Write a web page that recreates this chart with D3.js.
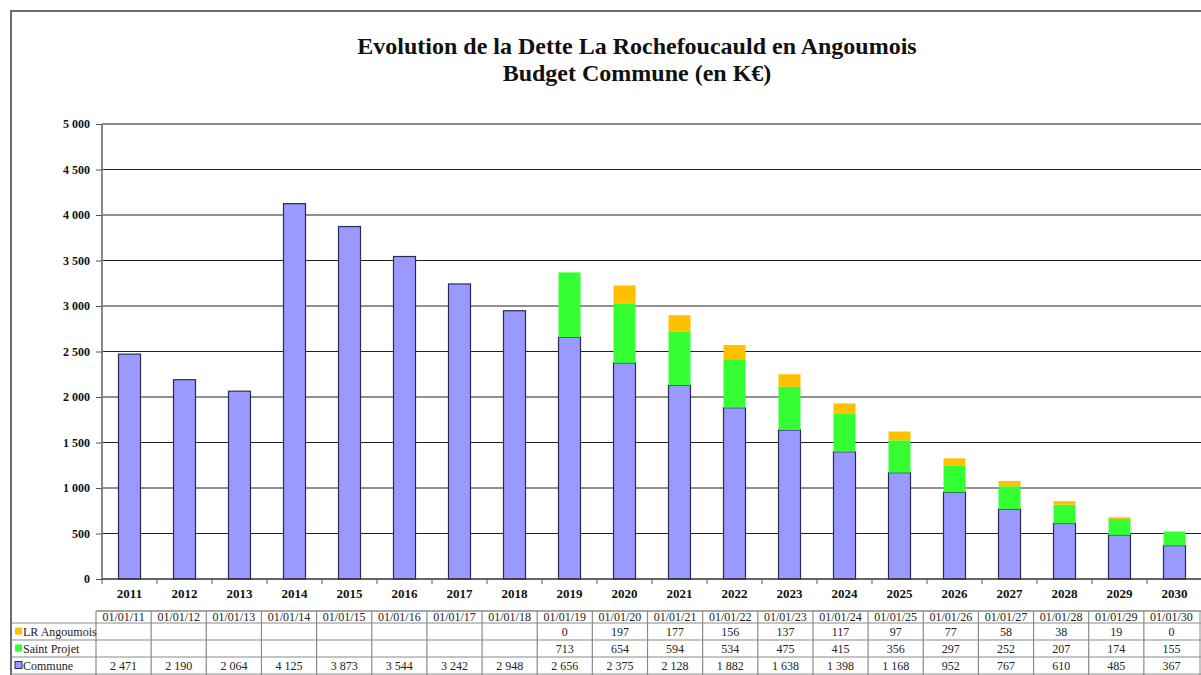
<!DOCTYPE html>
<html><head><meta charset="utf-8">
<script src="https://cdn.jsdelivr.net/npm/d3@7"></script>
<style>
html,body{margin:0;padding:0;background:#fff;}
svg{display:block;}
</style></head>
<body>
<svg id="c" width="1201" height="675"></svg>
<script>
const years = ["2011","2012","2013","2014","2015","2016","2017","2018","2019","2020","2021","2022","2023","2024","2025","2026","2027","2028","2029","2030"];
const dates = ["01/01/11","01/01/12","01/01/13","01/01/14","01/01/15","01/01/16","01/01/17","01/01/18","01/01/19","01/01/20","01/01/21","01/01/22","01/01/23","01/01/24","01/01/25","01/01/26","01/01/27","01/01/28","01/01/29","01/01/30"];
const commune = [2471,2190,2064,4125,3873,3544,3242,2948,2656,2375,2128,1882,1638,1398,1168,952,767,610,485,367];
const saintProjet = [null,null,null,null,null,null,null,null,713,654,594,534,475,415,356,297,252,207,174,155];
const lrAngoumois = [null,null,null,null,null,null,null,null,0,197,177,156,137,117,97,77,58,38,19,0];
const yTicks = [0,500,1000,1500,2000,2500,3000,3500,4000,4500,5000];
const seriesNames = ["Commune","Saint Projet","LR Angoumois"];
const seriesColors = {"Commune":"#9999ff","Saint Projet":"#33ff33","LR Angoumois":"#ffc000"};
const titleLines = ["Evolution de la Dette La Rochefoucauld en Angoumois","Budget Commune (en K\u20ac)"];

const FF = "Liberation Serif, Tinos, Times New Roman, DejaVu Serif, serif";
const svg = d3.select("#c").attr("font-family",FF);
const loc = d3.formatLocale({decimal:",",thousands:" ",grouping:[3],currency:["","€"]});
const fmt = loc.format(",d");

// frame
svg.append("path").attr("d","M11,675 L11,11 L1201,11").attr("fill","none").attr("stroke","#6b6b6b").attr("stroke-width",2);

// title
svg.append("text").attr("x",637).attr("y",54).attr("text-anchor","middle").attr("font-family",FF)
  .attr("font-size",24).attr("font-weight","bold").attr("fill","#111").text(titleLines[0]);
svg.append("text").attr("x",637).attr("y",81).attr("text-anchor","middle").attr("font-family",FF)
  .attr("font-size",24).attr("font-weight","bold").attr("fill","#111").text(titleLines[1]);

const x0 = 102, x1 = 1202, yTop = 124, yBot = 579;
const xb = d3.scaleBand().domain(years).range([x0,x1]).padding(0);
const xBar = d3.scaleBand().domain(years).range([x0,x1]).paddingInner(0.6).paddingOuter(0.3);
const y = d3.scaleLinear().domain([0,5000]).range([yBot,yTop]);

// gridlines
svg.append("g").selectAll("line").data(yTicks.filter(t=>t>0)).join("line")
  .attr("x1",x0).attr("x2",x1).attr("y1",d=>y(d)).attr("y2",d=>y(d))
  .attr("stroke",d=>d===5000?"#888":"#222").attr("stroke-width",d=>d===5000?2:1.2);

// stacked bars
const rows = years.map((yr,i)=>({year:yr,"Commune":commune[i],"Saint Projet":saintProjet[i]||0,"LR Angoumois":lrAngoumois[i]||0}));
const stack = d3.stack().keys(seriesNames)(rows);
stack.forEach(layer=>{
  const key = layer.key;
  svg.append("g").selectAll("rect").data(layer.filter(d=>d[1]-d[0]>0)).join("rect")
    .attr("x",d=>xBar(d.data.year)).attr("width",xBar.bandwidth())
    .attr("y",d=>y(d[1])).attr("height",d=>y(d[0])-y(d[1]))
    .attr("fill",seriesColors[key])
    .attr("stroke",key==="Commune"?"#2a2a55":"none").attr("stroke-width",1.2);
});

// y axis
const yAxis = d3.axisLeft(y).tickValues(yTicks).tickSize(6).tickPadding(6).tickFormat(fmt);
const ga = svg.append("g").attr("transform",`translate(${x0},0)`).call(yAxis).attr("font-family",FF);
ga.select(".domain").attr("stroke","#888").attr("stroke-width",2).attr("d",`M0,${yTop}V${yBot}`);
ga.selectAll(".tick line").attr("stroke","#555");
ga.selectAll(".tick text").attr("font-family",FF).attr("font-size",12).attr("font-weight","bold").attr("fill","#111");

// x axis baseline and ticks
svg.append("line").attr("x1",x0).attr("x2",x1).attr("y1",yBot).attr("y2",yBot).attr("stroke","#333").attr("stroke-width",1.5);
svg.append("g").selectAll("line").data(years).join("line")
  .attr("x1",d=>xb(d)).attr("x2",d=>xb(d)).attr("y1",yBot).attr("y2",yBot+5).attr("stroke","#555");
svg.append("g").selectAll("text").data(years).join("text")
  .attr("x",d=>xb(d)+xb.bandwidth()/2).attr("y",598).attr("text-anchor","middle").attr("font-family",FF)
  .attr("font-size",13).attr("font-weight","bold").attr("fill","#111").text(d=>d);

// data table
const tx = d3.scaleBand().domain(dates).range([96,96+20*55.15]).padding(0);
const rowY = [611,623,640,657,674];
const gridC = "#8a8a8a";
const tg = svg.append("g").attr("font-family",FF);
tg.append("line").attr("x1",96).attr("x2",1201).attr("y1",rowY[0]).attr("y2",rowY[0]).attr("stroke",gridC).attr("stroke-width",1.5);
[1,2,3,4].forEach(i=>tg.append("line").attr("x1",11).attr("x2",1201).attr("y1",rowY[i]).attr("y2",rowY[i]).attr("stroke",gridC).attr("stroke-width",1.2));
tg.append("g").selectAll("line").data(dates).join("line")
  .attr("x1",d=>tx(d)).attr("x2",d=>tx(d)).attr("y1",rowY[0]).attr("y2",675).attr("stroke",gridC).attr("stroke-width",1.2);
tg.append("line").attr("x1",1200).attr("x2",1200).attr("y1",rowY[0]).attr("y2",675).attr("stroke",gridC);
tg.append("g").selectAll("text").data(dates).join("text")
  .attr("x",d=>tx(d)+tx.bandwidth()/2).attr("y",rowY[1]-2).attr("text-anchor","middle").attr("font-family",FF)
  .attr("font-size",12).attr("fill","#222").text(d=>d);
const tableRows = [
  {name:"LR Angoumois", vals:lrAngoumois},
  {name:"Saint Projet", vals:saintProjet},
  {name:"Commune", vals:commune}
];
tableRows.forEach((r,ri)=>{
  const top = rowY[ri+1], bot = rowY[ri+2];
  const mid = (top+bot)/2;
  tg.append("rect").attr("x",15).attr("y",mid-4).attr("width",7).attr("height",7)
    .attr("fill",seriesColors[r.name]).attr("stroke",r.name==="Commune"?"#2a2a55":"none").attr("stroke-width",1);
  tg.append("text").attr("x",23).attr("y",mid+4).attr("font-family",FF).attr("font-size",12).attr("fill","#222").text(r.name);
  tg.append("g").selectAll("text").data(dates.map((d,i)=>({d,v:r.vals[i]})).filter(o=>o.v!==null)).join("text")
    .attr("x",o=>tx(o.d)+tx.bandwidth()/2).attr("y",mid+4).attr("text-anchor","middle").attr("font-family",FF)
    .attr("font-size",12).attr("fill","#222").text(o=>fmt(o.v));
});
</script>
</body></html>
